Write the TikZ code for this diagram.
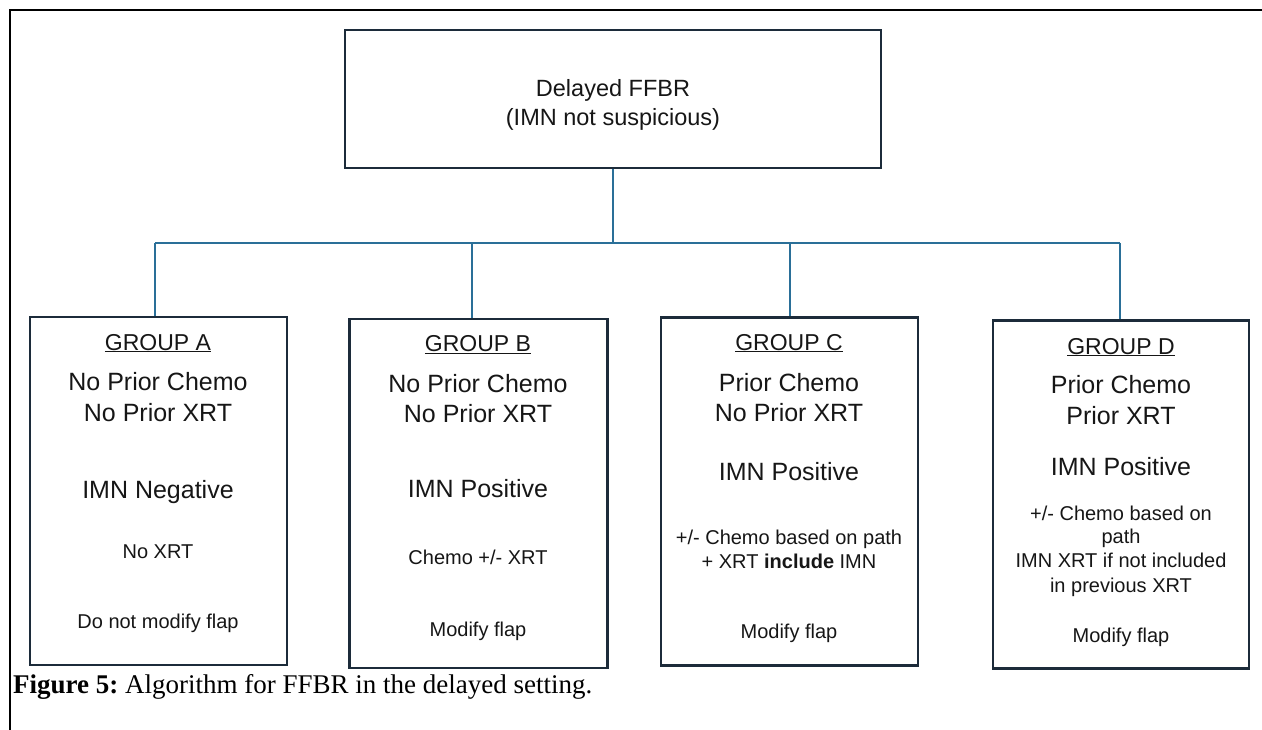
\documentclass[tikz,border=0pt]{standalone}
\usepackage{fontspec}
\setmainfont{Liberation Serif}
\newfontfamily\boxfont{Liberation Sans}
\definecolor{boxline}{HTML}{1C2B3A}
\definecolor{connline}{HTML}{2A6F98}
\definecolor{txt}{HTML}{161616}
\tikzset{
  grpbox/.style={draw=boxline, line width=2.5pt, rectangle, inner sep=0pt},
  conn/.style={draw=connline, line width=2.4pt},
  big/.style={anchor=base, text=txt, inner sep=0pt, font=\boxfont\fontsize{25}{30}\selectfont},
  head/.style={anchor=base, text=txt, inner sep=0pt, font=\boxfont\fontsize{23}{28}\selectfont},
  small/.style={anchor=base, text=txt, inner sep=0pt, font=\boxfont\fontsize{20}{24}\selectfont},
}
\begin{document}
\begin{tikzpicture}[x=1pt,y=-1pt]
\useasboundingbox (0,0) rectangle (1262,730);
% outer frame
\draw[line width=2pt, black] (10,730) -- (10,10) -- (1262,10);
% top box
\node[grpbox, minimum width=536pt, minimum height=138pt] (top) at (613,99) {};
\node[head, font=\boxfont\fontsize{23.5}{28}\selectfont] (t1) at (613,97) {Delayed FFBR};
\node[head, font=\boxfont\fontsize{23.5}{28}\selectfont] (t2) at (613,126) {(IMN not suspicious)};
% group boxes
\node[grpbox, minimum width=257pt, minimum height=348pt] (A) at (158.5,491) {};
\node[grpbox, minimum width=258pt, minimum height=349pt] (B) at (478.5,493.5) {};
\node[grpbox, minimum width=257pt, minimum height=348pt] (C) at (789.5,491.5) {};
\node[grpbox, minimum width=256pt, minimum height=348pt] (D) at (1121,494.5) {};
% connectors
\coordinate (bus) at (613,243);
\coordinate (ba) at (155,243);
\coordinate (bb) at (472,243);
\coordinate (bc) at (790,243);
\coordinate (bd) at (1120,243);
\draw[conn] (top.south) -- (bus);
\draw[conn] (ba) -- (bd);
\draw[conn] (ba) -- (ba |- A.north);
\draw[conn] (bb) -- (bb |- B.north);
\draw[conn] (bc) -- (bc |- C.north);
\draw[conn] (bd) -- (bd |- D.north);
% group A
\node[head] (a0) at (158,350) {\underline{GROUP A}};
\node[big] (a1) at (158,390) {No Prior Chemo};
\node[big] (a2) at (158,421) {No Prior XRT};
\node[big] (a3) at (158,498) {IMN Negative};
\node[small] (a4) at (158,558) {No XRT};
\node[small] (a5) at (158,628) {Do not modify flap};
% group B
\node[head] (b0) at (478,352) {\underline{GROUP B}};
\node[big] (b1) at (478,392) {No Prior Chemo};
\node[big] (b2) at (478,422) {No Prior XRT};
\node[big] (b3) at (478,497) {IMN Positive};
\node[small] (b4) at (478,564) {Chemo +/- XRT};
\node[small] (b5) at (478,636) {Modify flap};
% group C
\node[head] (c0) at (789,350) {\underline{GROUP C}};
\node[big] (c1) at (789,391) {Prior Chemo};
\node[big] (c2) at (789,421) {No Prior XRT};
\node[big] (c3) at (789,480) {IMN Positive};
\node[small] (c4) at (789,544) {+/- Chemo based on path};
\node[small] (c5) at (789,568) {+ XRT \textbf{include} IMN};
\node[small] (c6) at (789,638) {Modify flap};
% group D
\node[head] (d0) at (1121,354) {\underline{GROUP D}};
\node[big] (d1) at (1121,393) {Prior Chemo};
\node[big] (d2) at (1121,424) {Prior XRT};
\node[big] (d3) at (1121,475) {IMN Positive};
\node[small] (d4) at (1121,520) {+/- Chemo based on};
\node[small] (d5) at (1121,543) {path};
\node[small] (d6) at (1121,567) {IMN XRT if not included};
\node[small] (d7) at (1121,592) {in previous XRT};
\node[small] (d8) at (1121,642) {Modify flap};
% caption
\node[anchor=base west, inner sep=0pt, font=\fontsize{27}{32}\selectfont] (cap) at (13,693) {\frenchspacing\textbf{Figure 5:} Algorithm for FFBR in the delayed setting.};
\end{tikzpicture}
\end{document}
